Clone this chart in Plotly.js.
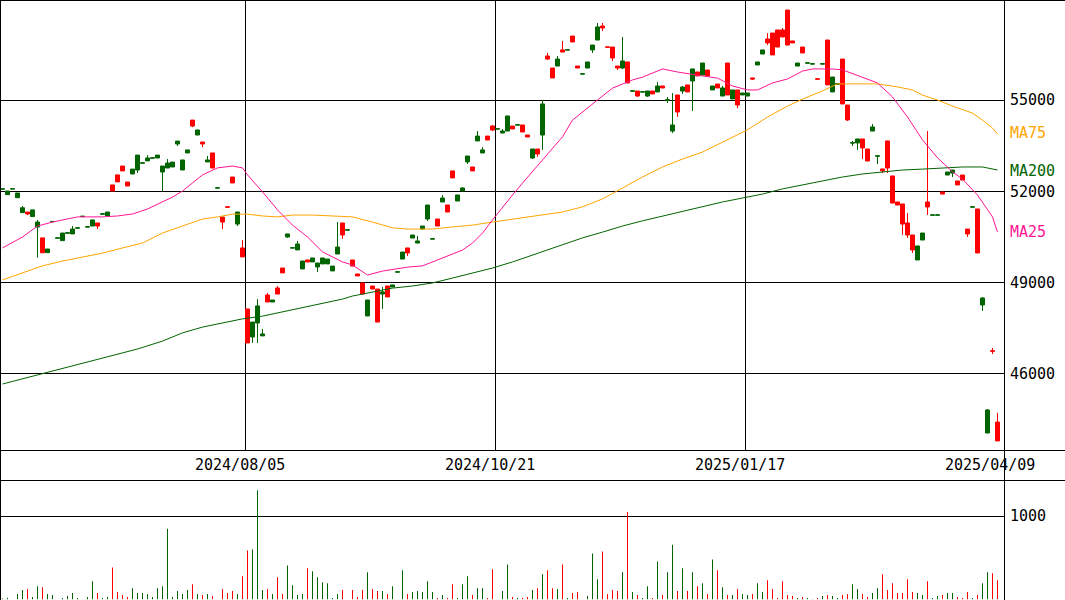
<!DOCTYPE html>
<html>
<head>
<meta charset="utf-8">
<script src="https://cdn.plot.ly/plotly-3.0.1.min.js"></script>
<style>
html,body{margin:0;padding:0;background:#fff;}
#chart{width:1065px;height:600px;}
</style>
</head>
<body>
<div id="chart"></div>
<script>
// ---- data ----
const opens = [52070,51890,52075,51790,51300,51320,51170,50830,50470,49985,51000,50460,50380,50625,50600,50790,51170,50825,50860,50960,
51250,51190,52210,52540,52830,52305,52570,52700,52925,53000,53090,53095,52635,52765,52800,53555,52700,53260,54340,53850,
53620,52965,53260,52105,51155,51490,52470,50925,50140,48135,47215,47675,47250,48595,48365,48825,49480,50500,50135,50075,
49450,49745,49680,49515,49615,49615,49385,49940,50960,50725,49745,49285,48990,47905,48890,48790,48625,48890,48855,49345,
49775,50140,50465,50300,50760,51090,50430,51090,51650,51550,52670,51680,52010,52965,52800,53655,53260,53815,54145,54045,
53915,53980,54145,54175,54180,53850,53095,53390,53850,56445,56050,56115,56645,56640,57100,56115,55850,56050,56645,56970,
57430,56745,56740,56115,56050,56250,55290,55295,55260,55130,55295,55265,55460,54995,53980,55165,55295,55495,55625,55920,
55820,55985,55330,55525,55130,56215,55035,55330,55165,55130,55725,56150,56510,57005,57200,57300,57300,57955,56940,56115,
56740,56210,56180,55695,56180,56970,55265,55520,56345,54835,53585,53590,53720,53390,53980,53155,52735,53655,52505,51650,
51585,50960,50565,49745,50400,51650,51215,51215,51980,52535,52600,52340,52535,50760,51480,51420,48265,44060,46760,44420];
const highs = [52080,52010,52085,51945,51520,51320,51390,51060,50470,50105,51010,50470,50630,50635,50860,50800,51180,50835,51060,50960,
51260,51320,52210,52540,52830,52305,52730,53190,52935,53190,53100,53190,52830,53060,52960,53650,53030,53360,54340,54015,
53620,53160,53260,52115,51155,51490,52470,51320,50400,48135,47705,48460,47480,48660,48430,48890,49480,50600,50145,50370,
49710,49745,49810,49645,49810,49775,49545,50990,50960,50735,49745,49285,48990,48430,48890,48790,48860,48890,48925,49355,
50005,50140,50565,50530,50860,51550,50440,51090,51880,51550,52670,51880,52140,53160,52800,53980,53455,53815,54180,54055,
54050,54475,54145,54185,54180,53850,53390,53390,55000,56545,56050,56445,56940,56650,57100,56115,55860,56250,56805,57530,
57530,56745,56740,56115,57070,56250,55300,55295,55270,55295,55295,55590,55460,55100,55230,55165,55460,55495,56020,55920,
56215,55985,55460,55525,55460,56215,55330,55330,55230,55230,55725,56250,56645,57200,57200,57300,57365,57955,56940,56215,
56740,56220,56190,55695,56190,56970,55755,55530,56345,54835,53655,53720,53720,53390,54210,53165,52735,53655,52505,51650,
51585,51290,50565,50205,50630,53980,51225,51225,51980,52635,52700,52340,52535,50760,51490,51420,48530,44850,46855,44720];
const lows = [52070,51890,52075,51790,51300,51220,51170,49820,49980,49985,51000,50460,50380,50625,50600,50790,51170,50825,50860,50760,
51250,51190,52010,52310,52670,52175,52570,52600,52925,53000,53090,53095,52010,52765,52800,53490,52700,53260,54110,53850,
53455,52965,52765,52105,50760,51480,52275,50860,49845,47020,47020,47020,47250,48365,48365,48625,49320,50470,50135,50075,
49450,49680,49680,49350,49615,49615,49385,49940,50435,50725,49545,49220,48625,47905,48790,47705,48135,48530,48855,49345,
49775,49875,50465,50300,50760,51025,50430,50860,51650,51320,52440,51680,52010,52895,52670,53655,53260,53685,53980,54045,
53915,53980,54050,54175,53950,53785,53060,53130,53360,56315,55725,56115,56575,56640,56905,56050,55850,56050,56545,56970,
57265,56735,56280,55985,56020,55560,55290,55100,55260,55100,55200,55265,55395,54900,53915,54440,55200,55265,54640,55790,
55820,55790,55330,55395,55130,55165,55035,54735,55165,55130,55655,56150,56510,56805,56480,56740,57070,56805,56875,56115,
56545,56210,56180,55685,56180,55495,55265,55520,54870,54310,53490,53360,53060,52995,53980,52895,52600,52600,51615,51550,
50565,50465,49975,49745,50400,51220,51215,51215,51910,52535,52470,52210,52370,50500,51480,49975,48070,44060,46655,43800];
const closes = [52080,52010,52085,51945,51460,51255,51390,50990,49980,50105,51010,50470,50630,50635,50760,50800,51180,50835,51060,50860,
51260,51320,52010,52310,52670,52175,52730,53190,52935,53095,53100,53190,52830,52930,52960,53650,53030,53360,54145,54015,
53555,53030,52765,52115,50990,51480,52275,51320,49845,47020,47705,48235,47315,48365,48430,48625,49320,50600,50145,50270,
49710,49680,49810,49645,49810,49775,49545,50170,50565,50735,49545,49220,48625,48430,48790,47705,48695,48530,48925,49355,
50005,49975,50565,50370,50860,51550,50440,50860,51780,51320,52440,51880,52110,53160,52670,53815,53360,53685,54015,54055,
53980,54475,54050,54185,53950,53785,53390,53225,54870,56345,55725,56345,56575,56650,56905,56050,55860,56250,56805,57400,
57365,56735,56380,56050,56280,55560,55300,55130,55270,55295,55200,55460,55395,55005,54180,54605,55425,55265,56020,55790,
56215,55790,55460,55395,55395,55165,55330,54835,55230,55230,55690,56250,56645,56875,56480,56740,57070,56805,56875,56215,
56545,56220,56190,55685,56190,55495,55755,55530,54870,54345,53595,53720,53425,52995,54115,53165,52670,52765,51615,51550,
50925,50565,50075,50205,50630,51485,51225,51225,51910,52635,52700,52210,52370,50600,51490,49975,48495,44815,46750,43800];
const volumes = [10,20,null,63,111,123,28,158,146,63,51,null,16,40,75,16,null,28,217,75,
16,28,383,87,51,28,134,75,75,63,28,134,158,846,28,99,63,111,182,63,
51,63,40,null,123,75,99,63,277,585,597,1308,111,123,63,265,63,407,170,51,
63,372,336,265,206,194,16,63,111,null,111,28,111,324,123,99,99,63,158,null,
348,63,87,99,87,217,87,16,51,16,182,16,182,277,51,134,134,16,360,null,
99,419,28,16,16,28,111,134,300,348,134,123,419,16,75,87,null,40,549,241,
573,63,111,99,324,1047,87,51,16,158,16,455,51,324,656,99,372,99,324,158,
194,63,478,348,146,51,51,123,63,51,63,194,87,229,123,16,217,51,40,16,
28,16,5,16,40,51,40,16,51,63,182,123,63,28,75,134,300,111,194,75,
75,241,87,75,51,217,16,40,51,75,75,28,16,87,16,51,194,324,312,229];

const ma25Bars = [0,4,7,10,15,20,23,26,29,32,34,36,40,43,46,48,49,52,55,58,61,64,66,68,70,73,76,81,84,88,92,94,96,98,100,102,104,106,108,112,114,119,122,126,128,132,135,140,143,146,149,151,154,157,160,162,166,168,172,175,178,181,184,187,190,192,195,198,199];
const ma25 = [50140,50500,50860,50990,51160,51160,51190,51255,51420,51650,51810,52010,52540,52770,52830,52770,52540,51980,51390,50890,50500,50010,49840,49680,49580,49250,49380,49510,49550,49810,50070,50300,50630,51060,51490,51880,52270,52640,53030,53790,54340,55000,55390,55660,55750,56020,55920,55790,55720,55460,55330,55330,55560,55690,55950,56020,56020,55990,55750,55560,55100,54440,53690,53100,52640,52400,51880,51160,50660];
const ma75Bars = [0,4,8,12,16,20,24,28,32,36,40,43,46,49,52,55,58,62,66,70,74,78,81,86,90,94,98,102,108,112,116,120,124,128,132,136,140,145,149,153,157,160,164,167,171,175,179,182,184,187,190,194,196,198,199];
const ma75 = [49090,49320,49550,49710,49840,49970,50140,50300,50630,50860,51090,51160,51250,51250,51190,51160,51220,51220,51190,51160,50990,50800,50760,50760,50830,50890,50990,51090,51220,51320,51490,51750,52110,52470,52800,53060,53290,53690,54020,54440,54800,55030,55300,55530,55530,55530,55430,55330,55160,55000,54800,54570,54340,54080,53880];
const ma200Bars = [0,10,20,27,32,36,40,44,48,52,56,60,64,68,70,74,78,82,86,90,94,98,102,108,112,116,120,124,128,132,136,140,144,148,152,156,160,164,168,172,176,180,184,188,192,196,199];
const ma200 = [45670,46100,46530,46820,47080,47350,47540,47670,47810,47900,48040,48200,48330,48460,48560,48690,48820,48890,48990,49150,49320,49480,49680,50010,50240,50470,50660,50860,51030,51190,51350,51490,51650,51780,51910,52080,52210,52340,52470,52570,52640,52700,52730,52770,52800,52800,52700];

const tickBars = [48, 98, 148, 198];
const tickLabels = ['2024/08/05', '2024/10/21', '2025/01/17', '2025/04/09'];
const gridBars = [49, 99, 149];
const priceTicks = [46000, 49000, 52000, 55000];
const volumeTicks = [1000];
const maNames = ['MA75', 'MA200', 'MA25'];
const maLabelPrices = [53900, 52680, 50660];

// ---- drawing ----
const W = 1065, H = 600;
const UP = '#006400', DOWN = '#ff0000';
const C25 = '#ff1493', C75 = '#ffa500', C200 = '#006400';
const FONT = 'DejaVu Sans Mono, monospace';
const px = v => v / W;
const py = v => 1 - v / H;
const center = i => i + 0.5;

const xs = opens.map((_, i) => center(i));
const volColors = closes.map((c, i) => (c >= opens[i] ? UP : DOWN));

const traces = [
  {type: 'scatter', mode: 'lines', x: ma200Bars.map(center), y: ma200, xaxis: 'x', yaxis: 'y',
   line: {color: C200, width: 1}, hoverinfo: 'skip'},
  {type: 'scatter', mode: 'lines', x: ma75Bars.map(center), y: ma75, xaxis: 'x', yaxis: 'y',
   line: {color: C75, width: 1}, hoverinfo: 'skip'},
  {type: 'scatter', mode: 'lines', x: ma25Bars.map(center), y: ma25, xaxis: 'x', yaxis: 'y',
   line: {color: C25, width: 1}, hoverinfo: 'skip'},
  {type: 'candlestick', x: xs, open: opens, high: highs, low: lows, close: closes,
   xaxis: 'x', yaxis: 'y', whiskerwidth: 0,
   increasing: {line: {color: UP, width: 1}, fillcolor: UP},
   decreasing: {line: {color: DOWN, width: 1}, fillcolor: DOWN},
   hoverinfo: 'skip'},
  {type: 'bar', x: xs, y: volumes, xaxis: 'x', yaxis: 'y2', width: 0.2,
   marker: {color: volColors, line: {width: 0}}, hoverinfo: 'skip'}
];

const shapes = [];
// vertical grid lines, nudged half a pixel so they render crisp
gridBars.forEach(b => shapes.push({type: 'line', xref: 'x', yref: 'paper', x0: b + 0.1, x1: b + 0.1,
  y0: py(450), y1: 1, line: {color: '#000', width: 1}, layer: 'below'}));
// frame lines
const hline = (y, x0, x1) => shapes.push({type: 'line', xref: 'paper', yref: 'paper',
  x0: px(x0), x1: px(x1), y0: py(y), y1: py(y), line: {color: '#000', width: 1}});
const vline = (x, y0, y1) => shapes.push({type: 'line', xref: 'paper', yref: 'paper',
  x0: px(x), x1: px(x), y0: py(y0), y1: py(y1), line: {color: '#000', width: 1}});
hline(0.5, 0, W);
hline(450.5, 0, W);
hline(480.5, 0, W);
vline(0.5, 0, H);
vline(1004.5, 0, H);

const annotations = [];
tickBars.forEach((b, k) => annotations.push({xref: 'x', yref: 'paper', x: b, y: py(465),
  text: tickLabels[k], showarrow: false, xanchor: 'center', yanchor: 'middle',
  font: {family: FONT, size: 15, color: '#000'}}));
const maColors = [C75, C200, C25];
maNames.forEach((t, k) => annotations.push({xref: 'paper', yref: 'y', x: px(1008), y: maLabelPrices[k],
  text: t, showarrow: false, xanchor: 'left', yanchor: 'middle',
  font: {family: FONT, size: 15, color: maColors[k]}}));

const layout = {
  width: W, height: H,
  margin: {l: 0, r: 0, t: 0, b: 0, pad: 0},
  paper_bgcolor: '#fff', plot_bgcolor: '#fff',
  showlegend: false,
  boxgap: 0.2, boxgroupgap: 0,
  xaxis: {domain: [0, px(1005)], range: [0, 201], showgrid: false, zeroline: false,
    showticklabels: false, ticks: '', showline: false, rangeslider: {visible: false}, fixedrange: true},
  yaxis: {domain: [py(450), 1], range: [43502, 58285], side: 'right', tickvals: priceTicks,
    ticktext: priceTicks.map(String), showgrid: true, gridcolor: '#000', gridwidth: 1,
    zeroline: false, showline: false, ticks: '', ticklabelstandoff: 4,
    tickfont: {family: FONT, size: 15, color: '#000'}},
  yaxis2: {domain: [0, py(480)], range: [-8, 1432], side: 'right', anchor: 'x', tickvals: volumeTicks,
    ticktext: volumeTicks.map(String), showgrid: true, gridcolor: '#000', gridwidth: 1,
    zeroline: false, showline: false, ticks: '', ticklabelstandoff: 4,
    tickfont: {family: FONT, size: 15, color: '#000'}},
  shapes: shapes,
  annotations: annotations
};

Plotly.newPlot('chart', traces, layout, {staticPlot: true});
</script>
</body>
</html>
